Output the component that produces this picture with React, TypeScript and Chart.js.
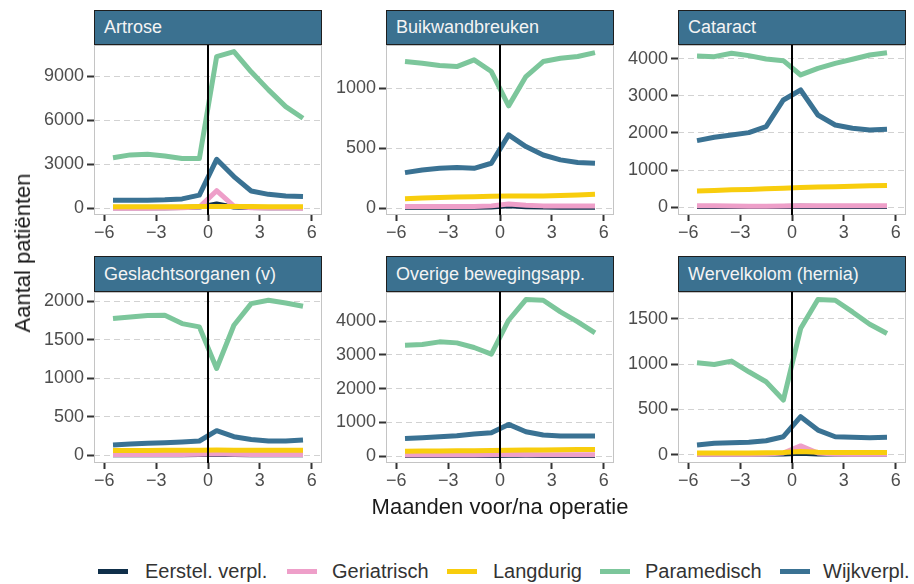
import React, { useEffect, useRef } from "react";
import { Chart, registerables } from "chart.js";

Chart.register(...registerables);

// ---------- data ----------
const MONTHS = [-5.5, -4.5, -3.5, -2.5, -1.5, -0.5, 0.5, 1.5, 2.5, 3.5, 4.5, 5.5];
const X_TICKS = [-6, -3, 0, 3, 6];

const SERIES_NAMES = ["Eerstel. verpl.", "Geriatrisch", "Langdurig", "Paramedisch", "Wijkverpl."];
const SERIES_COLORS = ["#0f2f4a", "#ee9fc9", "#f8cd0d", "#7cc69b", "#3a7293"];

const PANEL_TITLES = [
  "Artrose",
  "Buikwandbreuken",
  "Cataract",
  "Geslachtsorganen (v)",
  "Overige bewegingsapp.",
  "Wervelkolom (hernia)",
];

// Artrose
const ARTROSE_EERSTEL = [40, 40, 40, 45, 50, 80, 300, 80, 50, 45, 40, 40];
const ARTROSE_GERIATRISCH = [10, 10, 10, 15, 30, 80, 1200, 150, 30, 20, 15, 10];
const ARTROSE_LANGDURIG = [110, 110, 110, 110, 110, 115, 130, 120, 115, 110, 110, 110];
const ARTROSE_PARAMEDISCH = [3450, 3640, 3680, 3570, 3400, 3390, 10340, 10680, 9300, 8070, 6930, 6140];
const ARTROSE_WIJK = [545, 550, 555, 580, 640, 900, 3340, 2160, 1180, 950, 840, 800];
const ARTROSE_Y_TICKS = [0, 3000, 6000, 9000];

// Buikwandbreuken
const BUIK_EERSTEL = [8, 8, 8, 8, 9, 10, 20, 12, 10, 9, 9, 9];
const BUIK_GERIATRISCH = [15, 15, 15, 15, 15, 20, 35, 25, 20, 20, 20, 20];
const BUIK_LANGDURIG = [80, 85, 90, 93, 96, 100, 103, 103, 103, 106, 110, 117];
const BUIK_PARAMEDISCH = [1222, 1208, 1189, 1180, 1236, 1139, 853, 1097, 1222, 1250, 1264, 1297];
const BUIK_WIJK = [297, 319, 333, 339, 333, 375, 611, 514, 444, 403, 381, 375];
const BUIK_Y_TICKS = [0, 500, 1000];

// Cataract
const CATARACT_EERSTEL = [20, 20, 20, 20, 20, 22, 30, 22, 20, 20, 20, 20];
const CATARACT_GERIATRISCH = [45, 40, 35, 30, 30, 35, 45, 40, 40, 40, 40, 40];
const CATARACT_LANGDURIG = [440, 455, 470, 482, 498, 515, 532, 545, 556, 566, 578, 590];
const CATARACT_PARAMEDISCH = [4072, 4054, 4143, 4081, 3991, 3946, 3561, 3740, 3874, 3982, 4099, 4161];
const CATARACT_WIJK = [1794, 1883, 1946, 2009, 2170, 2888, 3157, 2484, 2215, 2126, 2081, 2099];
const CATARACT_Y_TICKS = [0, 1000, 2000, 3000, 4000];

// Geslachtsorganen (v)
const GESLACHT_EERSTEL = [4, 4, 4, 4, 4, 5, 8, 5, 4, 4, 4, 4];
const GESLACHT_GERIATRISCH = [8, 8, 8, 8, 8, 10, 15, 10, 8, 8, 8, 8];
const GESLACHT_LANGDURIG = [58, 60, 60, 62, 62, 62, 64, 62, 62, 62, 62, 62];
const GESLACHT_PARAMEDISCH = [1775, 1797, 1814, 1818, 1710, 1667, 1126, 1688, 1970, 2013, 1978, 1935];
const GESLACHT_WIJK = [130, 143, 152, 160, 169, 182, 316, 238, 203, 182, 182, 195];
const GESLACHT_Y_TICKS = [0, 500, 1000, 1500, 2000];

// Overige bewegingsapp.
const OVERIGE_EERSTEL = [15, 15, 15, 15, 16, 18, 25, 20, 18, 16, 16, 16];
const OVERIGE_GERIATRISCH = [30, 30, 30, 30, 30, 35, 50, 40, 35, 35, 35, 35];
const OVERIGE_LANGDURIG = [140, 146, 150, 156, 160, 166, 172, 176, 180, 186, 190, 196];
const OVERIGE_PARAMEDISCH = [3289, 3309, 3388, 3358, 3220, 3022, 4030, 4642, 4622, 4277, 3980, 3654];
const OVERIGE_WIJK = [523, 543, 573, 602, 652, 691, 938, 721, 622, 593, 593, 593];
const OVERIGE_Y_TICKS = [0, 1000, 2000, 3000, 4000];

// Wervelkolom (hernia)
const WERVEL_EERSTEL = [10, 10, 10, 10, 10, 12, 18, 12, 10, 10, 10, 10];
const WERVEL_GERIATRISCH = [8, 8, 8, 8, 10, 22, 100, 22, 10, 8, 8, 8];
const WERVEL_LANGDURIG = [22, 22, 22, 23, 25, 28, 38, 30, 28, 28, 28, 28];
const WERVEL_PARAMEDISCH = [1013, 995, 1032, 915, 805, 604, 1390, 1709, 1701, 1573, 1438, 1335];
const WERVEL_WIJK = [110, 128, 135, 139, 157, 201, 421, 274, 201, 194, 190, 194];
const WERVEL_Y_TICKS = [0, 500, 1000, 1500];

// ---------- layout / style ----------
const FONT = "'Liberation Sans', Arial, Helvetica, sans-serif";
const PLOT_W = 228;
const Y_AXIS_W = 70;
const PAD_T = 16;
const PAD_R = 12;
const X_AXIS_H = 36;
const COL_LEFT = [94, 386, 678];
const ROW_TOP = [45, 292];
const ROW_H = [170, 171];
const STRIP_TOP = [10, 256];

type PanelCfg = {
  title: string;
  series: number[][];
  yTicks: number[];
  yMin: number;
  yMax: number;
  col: number;
  row: number;
};

const PANELS: PanelCfg[] = [
  { title: PANEL_TITLES[0], series: [ARTROSE_EERSTEL, ARTROSE_GERIATRISCH, ARTROSE_LANGDURIG, ARTROSE_PARAMEDISCH, ARTROSE_WIJK], yTicks: ARTROSE_Y_TICKS, yMin: -457, yMax: 11130, col: 0, row: 0 },
  { title: PANEL_TITLES[1], series: [BUIK_EERSTEL, BUIK_GERIATRISCH, BUIK_LANGDURIG, BUIK_PARAMEDISCH, BUIK_WIJK], yTicks: BUIK_Y_TICKS, yMin: -56, yMax: 1360, col: 1, row: 0 },
  { title: PANEL_TITLES[2], series: [CATARACT_EERSTEL, CATARACT_GERIATRISCH, CATARACT_LANGDURIG, CATARACT_PARAMEDISCH, CATARACT_WIJK], yTicks: CATARACT_Y_TICKS, yMin: -207, yMax: 4367, col: 2, row: 0 },
  { title: PANEL_TITLES[3], series: [GESLACHT_EERSTEL, GESLACHT_GERIATRISCH, GESLACHT_LANGDURIG, GESLACHT_PARAMEDISCH, GESLACHT_WIJK], yTicks: GESLACHT_Y_TICKS, yMin: -104, yMax: 2121, col: 0, row: 1 },
  { title: PANEL_TITLES[4], series: [OVERIGE_EERSTEL, OVERIGE_GERIATRISCH, OVERIGE_LANGDURIG, OVERIGE_PARAMEDISCH, OVERIGE_WIJK], yTicks: OVERIGE_Y_TICKS, yMin: -207, yMax: 4868, col: 1, row: 1 },
  { title: PANEL_TITLES[5], series: [WERVEL_EERSTEL, WERVEL_GERIATRISCH, WERVEL_LANGDURIG, WERVEL_PARAMEDISCH, WERVEL_WIJK], yTicks: WERVEL_Y_TICKS, yMin: -88, yMax: 1792, col: 2, row: 1 },
];

const framePlugin = {
  id: "frame",
  afterDatasetsDraw(chart: any) {
    const { ctx, chartArea, scales } = chart;
    const x0 = Math.round(scales.x.getPixelForValue(0));
    ctx.save();
    ctx.strokeStyle = "#c4c4c4";
    ctx.lineWidth = 1;
    ctx.strokeRect(chartArea.left + 0.5, chartArea.top + 0.5, chartArea.right - chartArea.left - 1, chartArea.bottom - chartArea.top - 1);
    ctx.strokeStyle = "#000000";
    ctx.lineWidth = 2;
    ctx.beginPath();
    ctx.moveTo(x0, chartArea.top);
    ctx.lineTo(x0, chartArea.bottom);
    ctx.stroke();
    ctx.restore();
  },
};

const fmtMinus = (v: any) => String(v).replace("-", "\u2212");

function Panel({ cfg }: { cfg: PanelCfg }) {
  const ref = useRef<HTMLCanvasElement>(null);
  const plotH = ROW_H[cfg.row];
  const cw = Y_AXIS_W + PLOT_W + PAD_R;
  const ch = PAD_T + plotH + X_AXIS_H;
  const left = COL_LEFT[cfg.col] - Y_AXIS_W;
  const top = ROW_TOP[cfg.row] - PAD_T;

  useEffect(() => {
    const chart = new Chart(ref.current as HTMLCanvasElement, {
      type: "line",
      data: {
        datasets: SERIES_NAMES.map((name, i) => ({
          label: name,
          data: MONTHS.map((x, j) => ({ x, y: cfg.series[i][j] })),
          borderColor: SERIES_COLORS[i],
          backgroundColor: SERIES_COLORS[i],
          borderWidth: 5,
          pointRadius: 0,
          tension: 0,
          borderJoinStyle: "round",
          order: SERIES_NAMES.length - i,
        })),
      },
      options: {
        animation: false,
        responsive: false,
        maintainAspectRatio: false,
        devicePixelRatio: 1,
        events: [],
        layout: { padding: { top: PAD_T, right: PAD_R, left: 0, bottom: 0 } },
        plugins: { legend: { display: false }, tooltip: { enabled: false }, title: { display: false } },
        scales: {
          x: {
            type: "linear",
            min: -6.6,
            max: 6.6,
            afterBuildTicks: (s: any) => {
              s.ticks = X_TICKS.map((v) => ({ value: v }));
            },
            afterFit: (s: any) => {
              s.height = X_AXIS_H;
            },
            grid: { drawOnChartArea: false, drawTicks: true, tickLength: 6, tickWidth: 2, tickColor: "#333333" },
            border: { display: false },
            ticks: {
              callback: (v: any) => fmtMinus(v),
              color: "#4d4d4d",
              font: { family: FONT, size: 18 },
              padding: 1,
              maxRotation: 0,
              autoSkip: false,
            },
          },
          y: {
            type: "linear",
            min: cfg.yMin,
            max: cfg.yMax,
            afterBuildTicks: (s: any) => {
              s.ticks = cfg.yTicks.map((v) => ({ value: v }));
            },
            afterFit: (s: any) => {
              s.width = Y_AXIS_W;
            },
            grid: { color: "#d2d2d2", lineWidth: 1, drawTicks: true, tickLength: 7, tickWidth: 2, tickColor: "#333333", tickBorderDash: [] },
            border: { display: false, dash: [6, 4] },
            ticks: {
              callback: (v: any) => String(v),
              color: "#4d4d4d",
              font: { family: FONT, size: 18 },
              padding: 3,
              autoSkip: false,
            },
          },
        },
      } as any,
      plugins: [framePlugin],
    });
    return () => chart.destroy();
  }, []);

  return (
    <>
      <canvas
        ref={ref}
        width={cw}
        height={ch}
        style={{ position: "absolute", left, top, width: cw, height: ch }}
      />
      <div
        style={{
          position: "absolute",
          left: COL_LEFT[cfg.col],
          top: STRIP_TOP[cfg.row],
          width: PLOT_W,
          height: ROW_TOP[cfg.row] - STRIP_TOP[cfg.row],
          boxSizing: "border-box",
          background: "#3b7190",
          border: "1.5px solid #1e1e1e",
          color: "#f4f4f4",
          fontFamily: FONT,
          fontSize: 18,
          display: "flex",
          alignItems: "center",
          paddingLeft: 9,
          whiteSpace: "nowrap",
        }}
      >
        {cfg.title}
      </div>
    </>
  );
}

const LEGEND_KEY_X = [98, 287, 447, 600, 780];
const LEGEND_TEXT_X = [145, 332, 493, 645, 823];

export default function App() {
  return (
    <div
      style={{
        position: "absolute",
        left: 0,
        top: 0,
        width: 914,
        height: 584,
        background: "#ffffff",
        overflow: "hidden",
        fontFamily: FONT,
      }}
    >
      {PANELS.map((p, i) => (
        <Panel key={i} cfg={p} />
      ))}
      {/* y axis title */}
      <div
        style={{
          position: "absolute",
          left: 23,
          top: 253,
          transform: "translate(-50%, -50%) rotate(-90deg)",
          fontSize: 22,
          color: "#1a1a1a",
          whiteSpace: "nowrap",
          lineHeight: "24px",
        }}
      >
        Aantal patiënten
      </div>
      {/* x axis title */}
      <div
        style={{
          position: "absolute",
          left: 500,
          top: 507,
          transform: "translate(-50%, -50%)",
          fontSize: 22,
          color: "#1a1a1a",
          whiteSpace: "nowrap",
          lineHeight: "26px",
        }}
      >
        Maanden voor/na operatie
      </div>
      {/* legend */}
      {SERIES_NAMES.map((name, i) => (
        <React.Fragment key={name}>
          <div
            style={{
              position: "absolute",
              left: LEGEND_KEY_X[i],
              top: 569,
              width: 30,
              height: 5,
              background: SERIES_COLORS[i],
            }}
          />
          <div
            style={{
              position: "absolute",
              left: LEGEND_TEXT_X[i],
              top: 571,
              transform: "translateY(-50%)",
              fontSize: 20,
              color: "#333333",
              whiteSpace: "nowrap",
              lineHeight: "24px",
            }}
          >
            {name}
          </div>
        </React.Fragment>
      ))}
    </div>
  );
}
